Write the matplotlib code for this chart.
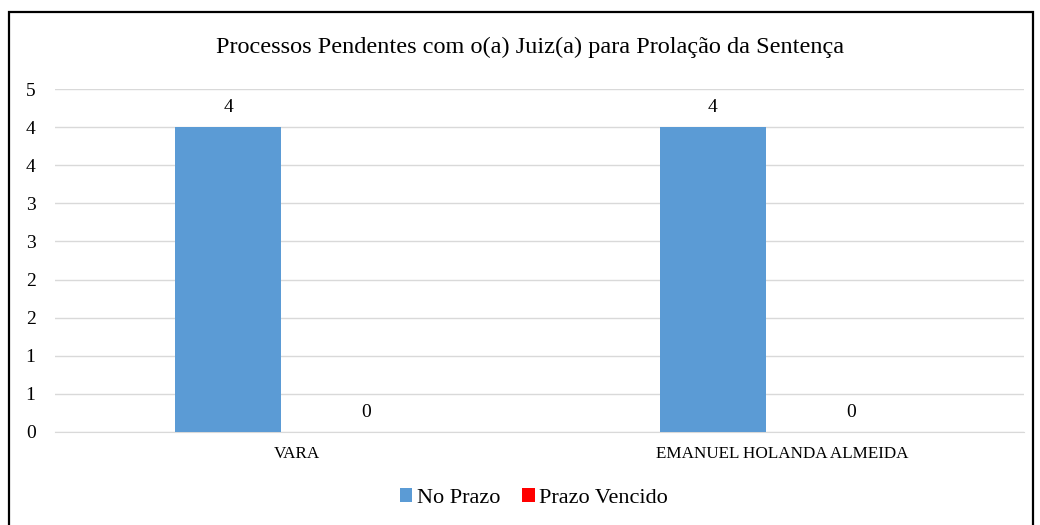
import matplotlib.pyplot as plt
import numpy as np
from matplotlib.patches import Rectangle

categories = ["VARA", "EMANUEL HOLANDA ALMEIDA"]
series_names = ["No Prazo", "Prazo Vencido"]
no_prazo = [4, 4]
prazo_vencido = [0, 0]
ytick_vals = [0, 0.5, 1, 1.5, 2, 2.5, 3, 3.5, 4, 4.5]
ytick_labels = ["0", "1", "1", "2", "2", "3", "3", "4", "4", "5"]
title = "Processos Pendentes com o(a) Juiz(a) para Prolação da Sentença"

plt.rcParams['font.family'] = ['Liberation Serif', 'DejaVu Serif']

W, H = 1040, 525
fig = plt.figure(figsize=(W/100, H/100), dpi=100)
ax = fig.add_axes([55/W, 1-432/H, (1024-55)/W, (432-89)/H])

x = np.arange(len(categories))
bw = 0.219
off = 0.1425
colors = ["#5b9bd5", "#ff0000"]
b1 = ax.bar(x - off, no_prazo, bw, color=colors[0], label=series_names[0], zorder=3)
b2 = ax.bar(x + off, prazo_vencido, bw, color=colors[1], label=series_names[1], zorder=3)

for bars, vals in ((b1, no_prazo), (b2, prazo_vencido)):
    for r, v in zip(bars, vals):
        ax.annotate(f"{v:g}", (r.get_x() + r.get_width()/2, v), xytext=(0, 8),
                    textcoords="offset points", ha="center", va="bottom", fontsize=14)

ax.set_xlim(-0.5, len(categories) - 0.5)
ax.set_ylim(0, 4.5)
ax.set_yticks(ytick_vals)
ax.set_yticklabels(ytick_labels, fontsize=14)
ax.set_xticks(x)
ax.set_xticklabels(categories, fontsize=12.3)
ax.tick_params(axis='both', length=0)
ax.tick_params(axis='y', pad=14)
ax.tick_params(axis='x', pad=10)
ax.grid(axis='y', color='#d9d9d9', linewidth=1, zorder=0)
for s in ['top', 'right', 'left']:
    ax.spines[s].set_visible(False)
ax.spines['bottom'].set_color('#d9d9d9')

fig.text(530/W, 1-47/H, title, ha='center', va='center', fontsize=17.5)

leg = fig.legend(handles=[b1, b2], labels=series_names, loc='center',
                 bbox_to_anchor=(534/W, 1-498/H), ncol=2, frameon=False,
                 fontsize=16, handlelength=0.55, handleheight=0.55,
                 handletextpad=0.2, columnspacing=1.0)

fig.patches.append(Rectangle((9/W, -0.05), (1033-9)/W, 1.05 - 12/H,
                             transform=fig.transFigure, fill=False,
                             edgecolor='black', linewidth=1.6))

fig.savefig("out.png", dpi=100, facecolor='white')
